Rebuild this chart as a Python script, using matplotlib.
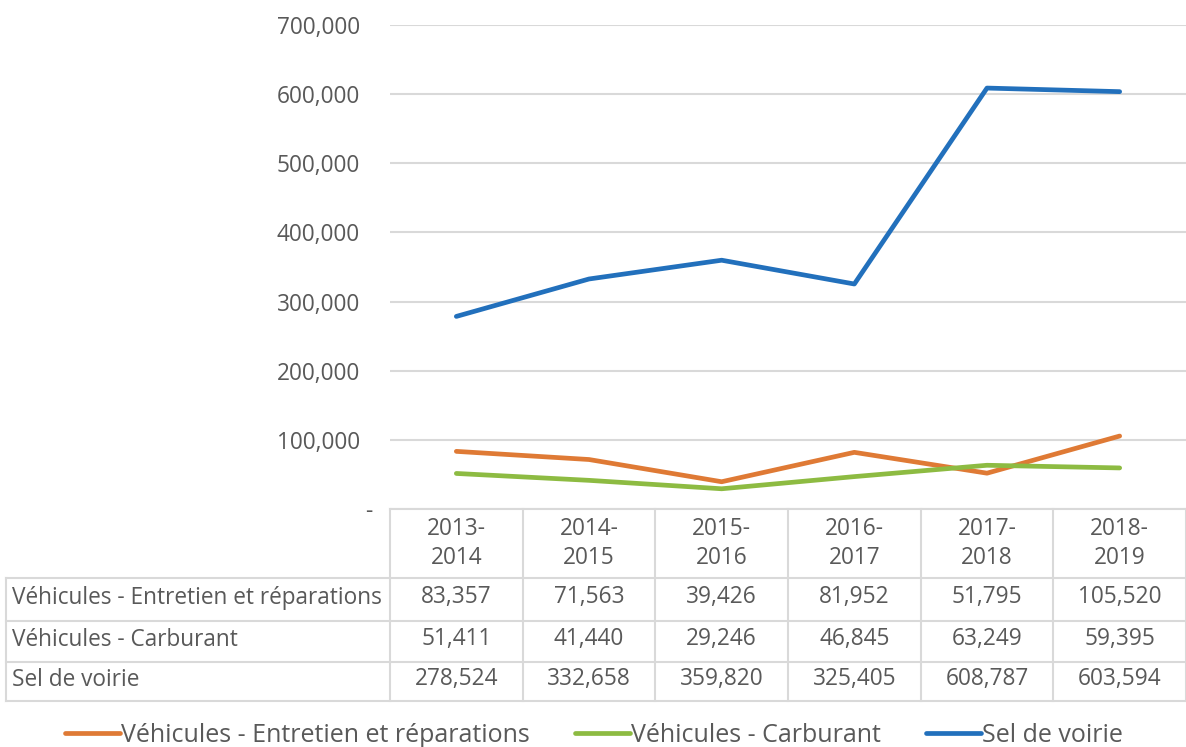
import matplotlib
matplotlib.use("Agg")
import matplotlib.pyplot as plt
import matplotlib.transforms as mtransforms
from matplotlib.ticker import FuncFormatter

categories = ["2013-\n2014", "2014-\n2015", "2015-\n2016", "2016-\n2017", "2017-\n2018", "2018-\n2019"]
series_names = ["Véhicules - Entretien et réparations", "Véhicules - Carburant", "Sel de voirie"]
entretien = [83357, 71563, 39426, 81952, 51795, 105520]
carburant = [51411, 41440, 29246, 46845, 63249, 59395]
sel = [278524, 332658, 359820, 325405, 608787, 603594]
colors = ["#DF7A35", "#8DBB42", "#2270BC"]
yticks = [0, 100000, 200000, 300000, 400000, 500000, 600000, 700000]

plt.rcParams['font.family'] = ['Open Sans', 'DejaVu Sans']
TXT = "#595959"
GRID = "#D9D9D9"
W, H = 1186, 747
fig = plt.figure(figsize=(W / 100, H / 100), dpi=100)

def fx(px):
    return px / W

def fy(py):
    return 1 - py / H

fs = 16.3

# main axes
ax_l, ax_r, ax_t, ax_b = 390, 1186, 25, 509
ax = fig.add_axes([fx(ax_l), fy(ax_b), fx(ax_r - ax_l), fy(ax_t) - fy(ax_b)])
x = list(range(len(categories)))
data = [entretien, carburant, sel]
for name, vals, c in zip(series_names, data, colors):
    ax.plot(x, vals, color=c, lw=3.4, solid_capstyle='round', label=name, zorder=3)
ax.set_xlim(-0.5, len(categories) - 0.5)
ax.set_ylim(0, 700000)
ax.set_yticks(yticks)
ax.yaxis.set_major_formatter(FuncFormatter(lambda v, p: "-" if v == 0 else f"{int(v):,}"))
ax.tick_params(axis='y', length=0, pad=21.6, labelsize=fs, labelcolor=TXT)
ax.tick_params(axis='x', length=0, labelbottom=False)
ax.grid(axis='y', color=GRID, lw=1.5)
ax.set_axisbelow(True)
for s in ax.spines.values():
    s.set_visible(False)
zero_lbl = ax.yaxis.get_major_ticks()[0].label1
zero_lbl.set_transform(zero_lbl.get_transform() + mtransforms.ScaledTranslation(12 / 100, 0, fig.dpi_scale_trans))

# table axes, sharing horizontal scale with main axes
unit = (ax_r - ax_l) / len(categories)
tbl_l = 6
xmin = -0.5 - (ax_l - tbl_l) / unit
tb_t, tb_b = 509, 701
tax = fig.add_axes([fx(tbl_l), fy(tb_b), fx(ax_r - tbl_l), fy(tb_t) - fy(tb_b)])
tax.set_xlim(xmin, len(categories) - 0.5)
tax.set_ylim(tb_b, tb_t)
tax.axis('off')
row_edges = [509, 578, 621, 662, 701]
lw_t = 1.5
xmax = len(categories) - 0.5
tax.plot([-0.5, xmax], [row_edges[0]] * 2, color=GRID, lw=lw_t, clip_on=False)
for ry in row_edges[1:]:
    tax.plot([xmin, xmax], [ry, ry], color=GRID, lw=lw_t, clip_on=False)
for i in range(len(categories) + 1):
    tax.plot([i - 0.5, i - 0.5], [row_edges[0], row_edges[-1]], color=GRID, lw=lw_t, clip_on=False)
tax.plot([xmin, xmin], [row_edges[1], row_edges[-1]], color=GRID, lw=lw_t, clip_on=False)

for i, c in enumerate(categories):
    tax.text(i, (row_edges[0] + row_edges[1]) / 2, c, ha='center', va='center',
             fontsize=fs, color=TXT, linespacing=1.3)
for r, (name, vals) in enumerate(zip(series_names, data)):
    yc = (row_edges[r + 1] + row_edges[r + 2]) / 2 - 2
    tax.text(xmin + 6 / unit, yc, name, ha='left', va='center', fontsize=fs, color=TXT)
    for i, v in enumerate(vals):
        tax.text(i, yc, f"{v:,}", ha='center', va='center', fontsize=fs, color=TXT)

# legend
handles, labels = ax.get_legend_handles_labels()
fig.legend(handles, labels, loc='center', bbox_to_anchor=(fx(594), fy(735)), ncol=3,
           frameon=False, fontsize=18, labelcolor=TXT, handlelength=2.2, handletextpad=0.05,
           columnspacing=1.8, borderaxespad=0)

fig.savefig("out.png", dpi=100)
